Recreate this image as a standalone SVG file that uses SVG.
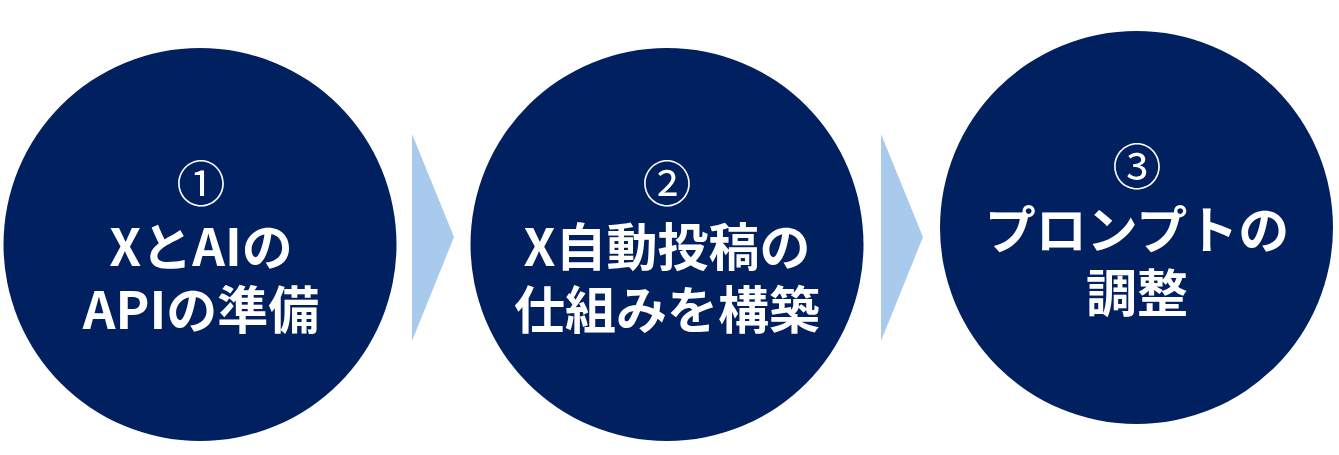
<svg xmlns="http://www.w3.org/2000/svg" width="1339" height="455" viewBox="0 0 1339 455">
<style>
.node{fill:#002060}
.arrow{fill:#A8CAEC}
.num{font-family:"Noto Sans CJK JP","Noto Sans",sans-serif;font-weight:400;font-size:49px;fill:#FFFFFF;text-anchor:middle}
.lbl{font-family:"Noto Sans CJK JP","Noto Sans",sans-serif;font-weight:700;font-size:51px;fill:#FFFFFF;text-anchor:middle}
</style>
<rect width="1339" height="455" fill="#FFFFFF"/>
<g id="connectors">
<polygon class="arrow" points="412,134 454,237 412,341"/>
<polygon class="arrow" points="881,134 923,237 881,341"/>
</g>
<g id="node1">
<circle class="node" cx="200" cy="244.5" r="196.5"/>
<text class="num" x="201" y="201.5">①</text>
<text class="lbl" x="201" y="266">XとAIの</text>
<text class="lbl" x="201" y="329">APIの準備</text>
</g>
<g id="node2">
<circle class="node" cx="667" cy="244.5" r="196.5"/>
<text class="num" x="667" y="201.5">②</text>
<text class="lbl" x="667" y="266">X自動投稿の</text>
<text class="lbl" x="667" y="329">仕組みを構築</text>
</g>
<g id="node3">
<circle class="node" cx="1136.5" cy="227.5" r="196.5"/>
<text class="num" x="1137" y="184.5">③</text>
<text class="lbl" x="1137" y="249">プロンプトの</text>
<text class="lbl" x="1137" y="312">調整</text>
</g>
</svg>
